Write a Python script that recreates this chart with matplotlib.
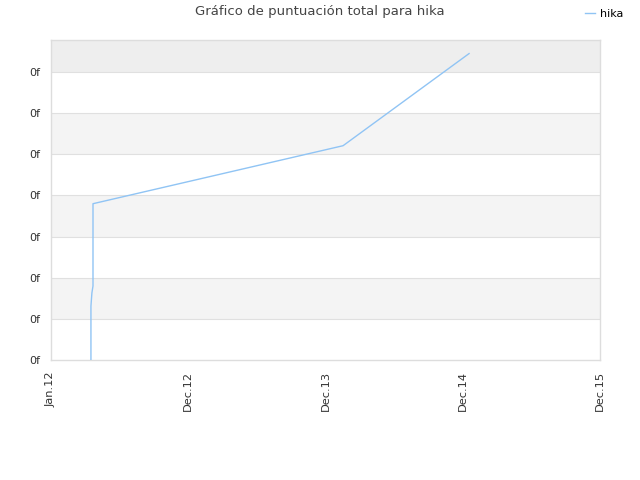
import matplotlib
matplotlib.use("Agg")
import matplotlib.pyplot as plt
from matplotlib.ticker import FixedLocator, FuncFormatter

# data (x in fractional years, y in score units)
x_years = [2012.291, 2012.291, 2012.291, 2012.298, 2012.306, 2012.306, 2012.306, 2014.128, 2015.046]
y_score = [0.0, 0.39, 1.31, 1.63, 1.80, 2.41, 3.80, 5.21, 7.45]
xtick_pos = [2012.0, 2013.0, 2014.0, 2015.0, 2016.0]
xtick_labels = ["Jan.12", "Dec.12", "Dec.13", "Dec.14", "Dec.15"]
ytick_pos = [0, 1, 2, 3, 4, 5, 6, 7]
series_name = "hika"
title = "Gráfico de puntuación total para hika"

fig = plt.figure(figsize=(6.4, 4.8), dpi=100)
ax = fig.add_axes([51/640, 120/480, 549/640, 320/480])

ymax = 7.78
ax.set_xlim(2012.0, 2016.0)
ax.set_ylim(0, ymax)

# alternating bands
bands = [(0, 1, "#ffffff"), (1, 2, "#f4f4f4"), (2, 3, "#ffffff"), (3, 4, "#f4f4f4"),
         (4, 5, "#ffffff"), (5, 6, "#f4f4f4"), (6, 7, "#ffffff"), (7, ymax, "#eeeeee")]
for lo, hi, c in bands:
    ax.axhspan(lo, hi, color=c, zorder=0, lw=0)
for t in ytick_pos[1:]:
    ax.axhline(t, color="#e0e0e0", lw=0.8, zorder=1)

ax.plot(x_years, y_score, color="#90c4f4", lw=1.0, label=series_name, zorder=3)

ax.xaxis.set_major_locator(FixedLocator(xtick_pos))
ax.set_xticklabels(xtick_labels, rotation=90, fontsize=8.2, color="#333333")
ax.yaxis.set_major_locator(FixedLocator(ytick_pos))
ax.yaxis.set_major_formatter(FuncFormatter(lambda v, p: "0f"))
ax.tick_params(axis="y", labelsize=8, colors="#333333", length=0, pad=8)
ax.tick_params(axis="x", length=0, pad=8)
for s in ax.spines.values():
    s.set_color("#dddddd")
    s.set_linewidth(1)

fig.text(0.5, 1 - 12/480, title, ha="center", va="center", fontsize=9.5, color="#444444")
fig.legend(loc="center left", bbox_to_anchor=(585/640, 1 - 14/480), frameon=False, fontsize=8,
           handlelength=0.9, handletextpad=0.45, borderaxespad=0, borderpad=0)

fig.savefig("out.png", dpi=100)
